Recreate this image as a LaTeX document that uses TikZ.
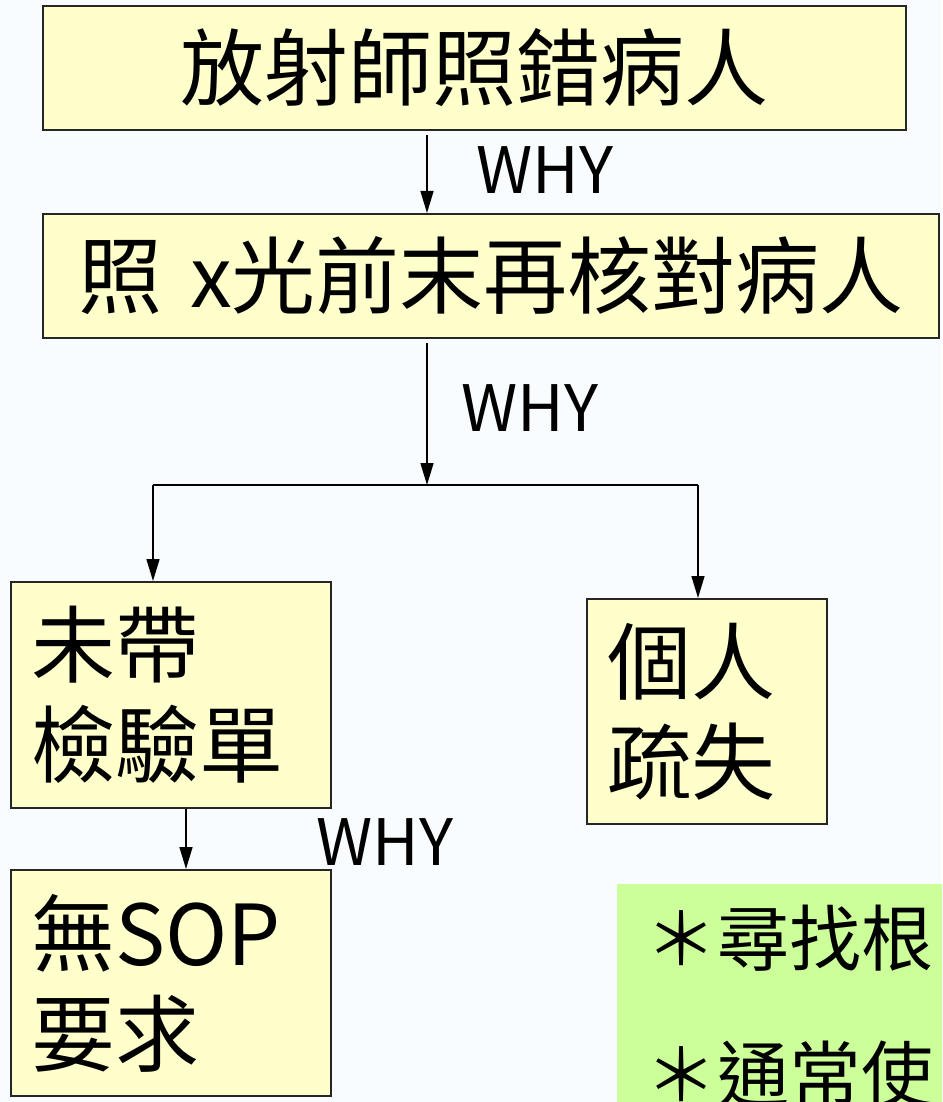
\documentclass[tikz,border=0pt]{standalone}
\usepackage{fontspec}
\setmainfont{Noto Sans CJK TC}
\usetikzlibrary{arrows.meta}
\definecolor{bgc}{RGB}{249,252,254}
\definecolor{boxc}{RGB}{255,255,204}
\definecolor{greenc}{RGB}{204,255,153}
\tikzset{
  box/.style={draw=black!85, line width=2pt, fill=boxc, anchor=north west, inner sep=0pt},
  bigtxt/.style={font=\fontsize{84}{100}\selectfont},
  whytxt/.style={font=\fontsize{64}{70}\selectfont, inner sep=0pt},
  arr/.style={line width=1.5pt, -{Triangle[width=13pt,length=22pt]}},
  conn/.style={line width=1.5pt}
}
\begin{document}
\begin{tikzpicture}[x=1pt,y=-1pt]
\useasboundingbox (0,0) rectangle (942,1102);
\clip (0,0) rectangle (942,1102);
\fill[bgc] (0,0) rectangle (942,1102);
% boxes
\node[box, bigtxt, minimum width=863pt, minimum height=124pt] (b1) at (42,5) {放射師照錯病人};
\node[box, bigtxt, minimum width=896pt, minimum height=124pt, text width=896pt, align=center] (b2) at (42,213) {照 x光前末再核對病人\hspace*{20pt}};
\node[box, bigtxt, minimum height=226pt, text width=280pt, inner xsep=20pt, align=left] (b3) at (10,581) {未帶\\檢驗單};
\node[box, bigtxt, minimum height=225pt, text width=200pt, inner xsep=20pt, align=left] (b4) at (586,598) {個人\\疏失};
\node[box, bigtxt, minimum height=226pt, text width=280pt, inner xsep=20pt, align=left] (b5) at (10,869) {無SOP\\要求};
% green note
\node[fill=greenc, anchor=north west, minimum width=400pt, minimum height=300pt, inner sep=0pt] (g) at (617,884) {};
\node[anchor=north west, align=left, inner sep=0pt, font=\fontsize{72}{136}\selectfont] (gt) at (645,905) {＊尋找根\\＊通常使};
% connectors
\coordinate (c1) at (427,0);
\coordinate (jn) at (427,485);
\coordinate (jl) at (153,485);
\coordinate (jr) at (698,485);
\coordinate (c3) at (186,0);
\draw[arr] ([yshift=-4pt]b1.south -| c1) -- (b2.north -| c1);
\draw[arr] ([yshift=-4pt]b2.south -| c1) -- (jn);
\draw[conn] (jl) -- (jr);
\draw[arr] (jl) -- (b3.north -| jl);
\draw[arr] (jr) -- (b4.north -| jr);
\draw[arr] (b3.south -| c3) -- (b5.north -| c3);
% labels
\node[whytxt] (w1) at (545,170) {WHY};
\node[whytxt] (w2) at (530,408) {WHY};
\node[whytxt] (w3) at (385,842) {WHY};
\end{tikzpicture}
\end{document}
